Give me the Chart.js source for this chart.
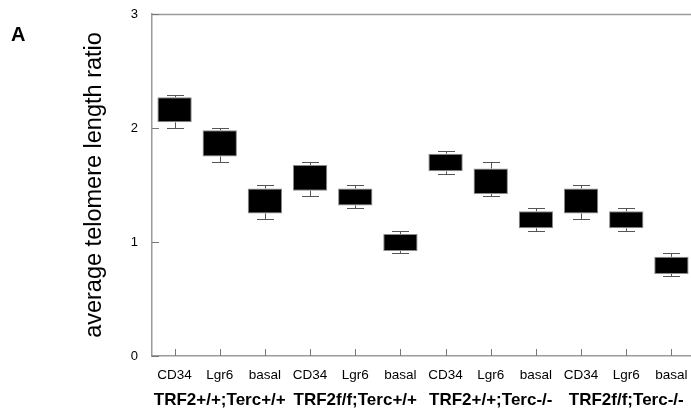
<!DOCTYPE html>
<html>
<head>
<meta charset="utf-8">
<script src="https://cdn.jsdelivr.net/npm/chart.js@4/dist/chart.umd.min.js"></script>
<style>
html,body{margin:0;padding:0;background:#fff;overflow:hidden;width:691px;height:412px;}
#wrap{position:relative;width:694px;height:412px;}
</style>
</head>
<body>
<div id="wrap"><canvas id="c"></canvas></div>
<script>
const categories = ['CD34','Lgr6','basal','CD34','Lgr6','basal','CD34','Lgr6','basal','CD34','Lgr6','basal'];
const groups = ['', 'TRF2+/+;Terc+/+', '', '', 'TRF2f/f;Terc+/+', '', '', 'TRF2+/+;Terc-/-', '', '', 'TRF2f/f;Terc-/-', ''];
const whiskerMin = [2.00, 1.70, 1.20, 1.40, 1.30, 0.90, 1.60, 1.40, 1.10, 1.20, 1.10, 0.70];
const boxLow     = [2.05, 1.75, 1.25, 1.45, 1.32, 0.92, 1.62, 1.42, 1.12, 1.25, 1.12, 0.72];
const boxHigh    = [2.27, 1.98, 1.47, 1.675, 1.47, 1.07, 1.775, 1.645, 1.27, 1.47, 1.27, 0.87];
const whiskerMax = [2.29, 2.00, 1.50, 1.70, 1.50, 1.10, 1.80, 1.70, 1.30, 1.50, 1.30, 0.90];
const yTicks = [0, 1, 2, 3];

const FONT = '"Liberation Sans", Arial, sans-serif';
const AXIS_GRAY = '#9a9a9a';

const extras = {
  id: 'extras',
  beforeDatasetsDraw(chart) {
    const {ctx, chartArea, scales} = chart;
    ctx.save();
    ctx.strokeStyle = AXIS_GRAY;
    ctx.lineWidth = 1.5;
    ctx.beginPath();
    ctx.moveTo(chartArea.left, chartArea.top + 0.5);
    ctx.lineTo(chartArea.right, chartArea.top + 0.5);
    ctx.stroke();
    ctx.strokeStyle = '#777';
    ctx.lineWidth = 1;
    yTicks.forEach(v => {
      const y = Math.round(scales.y.getPixelForValue(v)) + 0.5;
      ctx.beginPath();
      ctx.moveTo(chartArea.left, y);
      ctx.lineTo(chartArea.left + 7, y);
      ctx.stroke();
    });
    categories.forEach((c, i) => {
      const x = Math.round(scales.x.getPixelForValue(i)) + 0.5;
      ctx.beginPath();
      ctx.moveTo(x, chartArea.bottom);
      ctx.lineTo(x, chartArea.bottom - 7);
      ctx.stroke();
    });
    ctx.restore();
  },
  afterDatasetsDraw(chart) {
    const {ctx, scales} = chart;
    ctx.save();
    ctx.strokeStyle = '#555';
    ctx.lineWidth = 1;
    const cap = 8.5;
    categories.forEach((c, i) => {
      const x = Math.round(scales.x.getPixelForValue(i)) + 0.5;
      const yMax = Math.round(scales.y.getPixelForValue(whiskerMax[i])) + 0.5;
      const yHi = scales.y.getPixelForValue(boxHigh[i]);
      const yLo = scales.y.getPixelForValue(boxLow[i]);
      const yMin = Math.round(scales.y.getPixelForValue(whiskerMin[i])) + 0.5;
      ctx.beginPath();
      ctx.moveTo(x, yHi); ctx.lineTo(x, yMax);
      ctx.moveTo(x - cap, yMax); ctx.lineTo(x + cap, yMax);
      ctx.moveTo(x, yLo); ctx.lineTo(x, yMin);
      ctx.moveTo(x - cap, yMin); ctx.lineTo(x + cap, yMin);
      ctx.stroke();
    });
    ctx.fillStyle = '#000';
    ctx.font = 'bold 20px ' + FONT;
    ctx.textAlign = 'left';
    ctx.textBaseline = 'middle';
    ctx.fillText('A', 11, 35);
    ctx.restore();
  }
};

new Chart(document.getElementById('c'), {
  type: 'bar',
  data: {
    labels: categories,
    datasets: [{
      data: categories.map((c, i) => [boxLow[i], boxHigh[i]]),
      backgroundColor: '#000',
      borderColor: '#8a8a8a',
      borderWidth: 1,
      borderSkipped: false,
      categoryPercentage: 1,
      barPercentage: 0.76
    }]
  },
  options: {
    responsive: true,
    maintainAspectRatio: false,
    animation: false,
    layout: { padding: { left: 0, right: 0, top: 14, bottom: 0 } },
    plugins: { legend: { display: false }, tooltip: { enabled: false } },
    scales: {
      x: {
        type: 'category',
        position: 'bottom',
        grid: { display: true, drawOnChartArea: false, drawTicks: false },
        border: { display: true, color: AXIS_GRAY, width: 1.5 },
        ticks: { color: '#000', font: { family: FONT, size: 13.5 }, padding: 11, autoSkip: false, maxRotation: 0, minRotation: 0 },
        afterFit(s) { s.height = 30; s.paddingLeft = 0; s.paddingRight = 0; }
      },
      x2: {
        type: 'category',
        position: 'bottom',
        labels: groups,
        grid: { display: false, drawTicks: false },
        border: { display: false },
        ticks: { color: '#000', font: { family: FONT, size: 17, weight: 'bold' }, padding: 4, autoSkip: false, maxRotation: 0, minRotation: 0 },
        afterFit(s) { s.height = 26; s.paddingLeft = 0; s.paddingRight = 0; }
      },
      y: {
        min: 0, max: 3,
        afterBuildTicks(s) { s.ticks = yTicks.map(v => ({ value: v })); },
        grid: { display: true, drawOnChartArea: false, drawTicks: false },
        border: { display: true, color: AXIS_GRAY, width: 1.5 },
        ticks: { color: '#000', font: { family: FONT, size: 13 }, padding: 14 },
        title: { display: true, text: 'average telomere length ratio', color: '#000', font: { family: FONT, size: 23.5 }, padding: { top: 80, bottom: 0 } },
        afterFit(s) { s.width = 152; s.paddingTop = 0; s.paddingBottom = 0; }
      }
    }
  },
  plugins: [extras]
});
</script>
</body>
</html>
